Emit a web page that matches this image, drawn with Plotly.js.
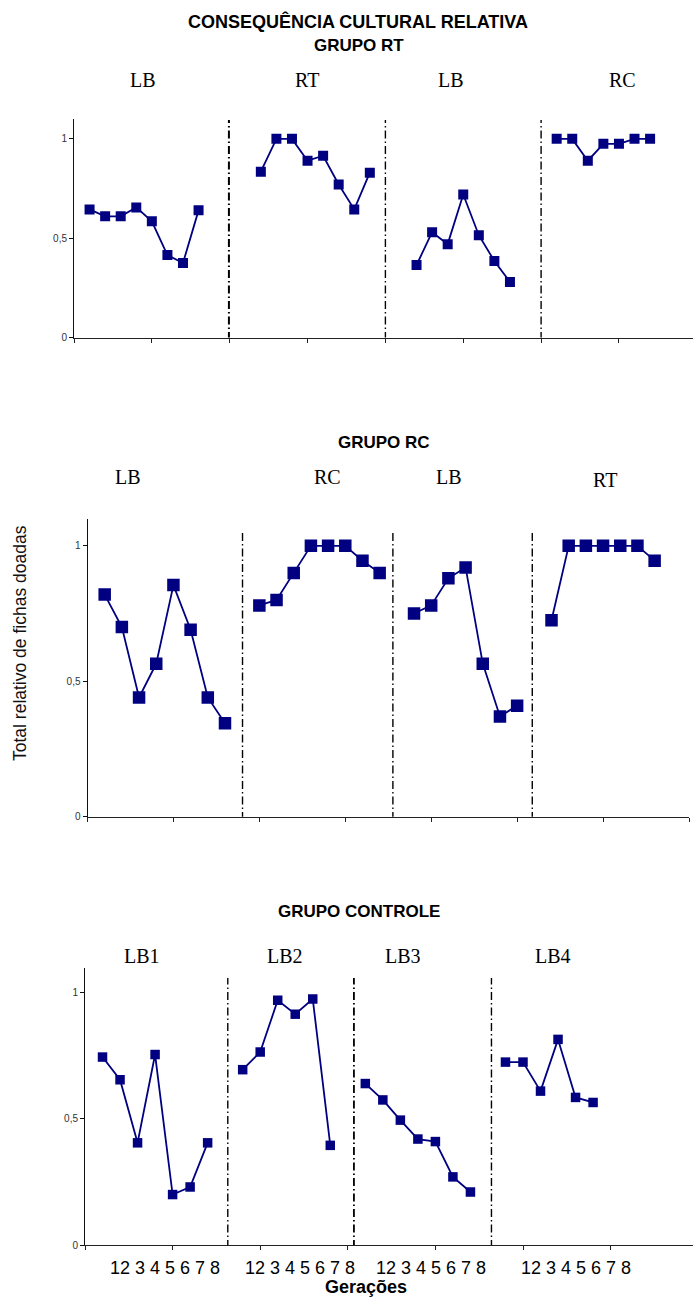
<!DOCTYPE html>
<html>
<head>
<meta charset="utf-8">
<script src="https://cdn.plot.ly/plotly-3.0.1.min.js"></script>
<style>
html,body{margin:0;padding:0;background:#fff;overflow:hidden;}
#chart{width:693px;height:1298px;}
</style>
</head>
<body>
<div id="chart"></div>
<script>
// ---------- DATA ----------
// Panel 1: GRUPO RT
const rtPhases = ['LB', 'RT', 'LB', 'RC'];
const rtLB1 = [0.645, 0.61, 0.61, 0.655, 0.585, 0.415, 0.375, 0.64];
const rtRT  = [0.835, 1.0, 1.0, 0.89, 0.915, 0.77, 0.645, 0.83];
const rtLB2 = [0.365, 0.53, 0.47, 0.72, 0.515, 0.385, 0.28];
const rtRC  = [1.0, 1.0, 0.89, 0.975, 0.975, 1.0, 1.0];

// Panel 2: GRUPO RC
const rcPhases = ['LB', 'RC', 'LB', 'RT'];
const rcLB1 = [0.82, 0.70, 0.44, 0.565, 0.855, 0.69, 0.44, 0.345];
const rcRC  = [0.78, 0.80, 0.90, 1.0, 1.0, 1.0, 0.945, 0.90];
const rcLB2 = [0.75, 0.78, 0.88, 0.92, 0.565, 0.37, 0.41];
const rcRT  = [0.725, 1.0, 1.0, 1.0, 1.0, 1.0, 0.945];

// Panel 3: GRUPO CONTROLE
const ctPhases = ['LB1', 'LB2', 'LB3', 'LB4'];
const ctLB1 = [0.745, 0.655, 0.405, 0.755, 0.20, 0.23, 0.405];
const ctLB2 = [0.695, 0.765, 0.97, 0.915, 0.975, 0.395];
const ctLB3 = [0.64, 0.575, 0.495, 0.42, 0.41, 0.27, 0.21];
const ctLB4 = [0.725, 0.725, 0.61, 0.815, 0.585, 0.565];

const yTickVals = [0, 0.5, 1];
const yTickText = ['0', '0,5', '1'];
const genLabel = '12 3 4 5 6 7 8';

const mainTitle = 'CONSEQUÊNCIA CULTURAL RELATIVA';
const groupTitles = ['GRUPO RT', 'GRUPO RC', 'GRUPO CONTROLE'];
const yTitle = 'Total relativo de fichas doadas';
const xTitle = 'Gerações';

// ---------- LAYOUT HELPERS ----------
const W = 693, H = 1298;
const px = x => x / W;
const py = y => 1 - y / H;
const NAVY = '#000080';
const SANS = 'Liberation Sans, Arial, sans-serif';
const SERIF = 'Liberation Serif, Times New Roman, serif';

const panels = [
  {series: [rtLB1, rtRT, rtLB2, rtRC], starts: [1, 12, 22, 31], msize: 10,
   xd: [74, 693], xr: [0, (693 - 74) / 15.57], yd: [337.5, 119],
   dividers: [9.95, 20, 30], divWidths: [2, 1.4, 1.4], divTop: 1.095,
   phases: rtPhases, phaseX: [143, 307, 451, 622], phaseY: [80, 80, 80, 80],
   title: groupTitles[0], titleY: 46},
  {series: [rcLB1, rcRC, rcLB2, rcRT], starts: [1, 10, 19, 27], msize: 12.5,
   xd: [87.5, 689], xr: [0, 35], yd: [816.7, 518.7],
   dividers: [9.02, 17.77, 25.88], divWidths: [1.4, 1.4, 1.4], divTop: 1.047,
   phases: rcPhases, phaseX: [128, 327, 449, 605], phaseY: [477, 477, 477, 480],
   title: groupTitles[1], titleY: 442},
  {series: [ctLB1, ctLB2, ctLB3, ctLB4], starts: [1, 9, 16, 24], msize: 9.5,
   xd: [85, 693], xr: [0, (693 - 85) / 17.52], yd: [1245, 967.5],
   dividers: [8.15, 15.35, 23.2], divWidths: [1.4, 1.8, 1.4], divTop: 1.058,
   phases: ctPhases, phaseX: [142, 285, 403, 553], phaseY: [956, 956, 956, 956],
   title: groupTitles[2], titleY: 911}
];

const traces = [];
const shapes = [];
const annotations = [];
const layout = {
  width: W, height: H,
  margin: {l: 0, r: 0, t: 0, b: 0},
  paper_bgcolor: '#fff', plot_bgcolor: 'rgba(0,0,0,0)',
  showlegend: false
};

panels.forEach((p, i) => {
  const n = i === 0 ? '' : String(i + 1);
  const xa = 'x' + n, ya = 'y' + n;
  layout['xaxis' + n] = {
    domain: [px(p.xd[0]), px(p.xd[1])], range: p.xr, anchor: ya,
    showgrid: false, zeroline: false, showline: true, linecolor: '#222', linewidth: 1,
    ticks: 'outside', ticklen: 4, tickcolor: '#222', tickwidth: 1,
    tickvals: [0, 5, 10, 15, 20, 25, 30, 35, 40], showticklabels: false, fixedrange: true
  };
  layout['yaxis' + n] = {
    domain: [py(p.yd[0]), py(p.yd[1])], range: [0, 1.1], anchor: xa,
    showgrid: false, zeroline: false, showline: true, linecolor: '#111', linewidth: 1,
    ticks: 'outside', ticklen: 4, tickcolor: '#111', tickwidth: 1,
    tickvals: yTickVals, ticktext: yTickText,
    tickfont: {family: SANS, size: 10, color: '#333'}, fixedrange: true
  };
  p.series.forEach((vals, j) => {
    traces.push({
      type: 'scatter', mode: 'lines+markers', xaxis: xa, yaxis: ya,
      x: vals.map((v, k) => p.starts[j] + k), y: vals,
      line: {color: NAVY, width: 1.8},
      marker: {symbol: 'square', size: p.msize, color: NAVY, line: {width: 0}},
      hoverinfo: 'skip'
    });
  });
  p.dividers.forEach((d, j) => {
    shapes.push({type: 'line', xref: xa, yref: ya, x0: d, x1: d, y0: -0.012, y1: p.divTop,
      line: {color: '#000', width: p.divWidths[j], dash: '8px,3px,1.5px,3px'}});
  });
  p.phases.forEach((t, j) => {
    annotations.push({text: t, xref: 'paper', yref: 'paper', x: px(p.phaseX[j]), y: py(p.phaseY[j]),
      xanchor: 'center', yanchor: 'middle', showarrow: false,
      font: {family: SERIF, size: 20, color: '#000'}});
  });
  annotations.push({text: '<b>' + p.title + '</b>', xref: 'paper', yref: 'paper',
    x: px(i === 1 ? 384 : 359), y: py(p.titleY), xanchor: 'center', yanchor: 'middle', showarrow: false,
    font: {family: SANS, size: 17, color: '#000'}});
});

annotations.push({text: '<b>' + mainTitle + '</b>', xref: 'paper', yref: 'paper',
  x: px(358), y: py(22), xanchor: 'center', yanchor: 'middle', showarrow: false,
  font: {family: SANS, size: 18, color: '#000'}});

annotations.push({text: yTitle, xref: 'paper', yref: 'paper', x: px(20), y: py(643),
  xanchor: 'center', yanchor: 'middle', textangle: -90, showarrow: false,
  font: {family: SANS, size: 17.5, color: '#111'}});

[165, 300, 431, 576].forEach(cx => {
  annotations.push({text: genLabel, xref: 'paper', yref: 'paper', x: px(cx), y: py(1268),
    xanchor: 'center', yanchor: 'middle', showarrow: false,
    font: {family: SANS, size: 18, color: '#000'}});
});

annotations.push({text: '<b>' + xTitle + '</b>', xref: 'paper', yref: 'paper', x: px(366), y: py(1287),
  xanchor: 'center', yanchor: 'middle', showarrow: false,
  font: {family: SANS, size: 18, color: '#000'}});

layout.shapes = shapes;
layout.annotations = annotations;

Plotly.newPlot('chart', traces, layout, {staticPlot: true, displayModeBar: false});
</script>
</body>
</html>
